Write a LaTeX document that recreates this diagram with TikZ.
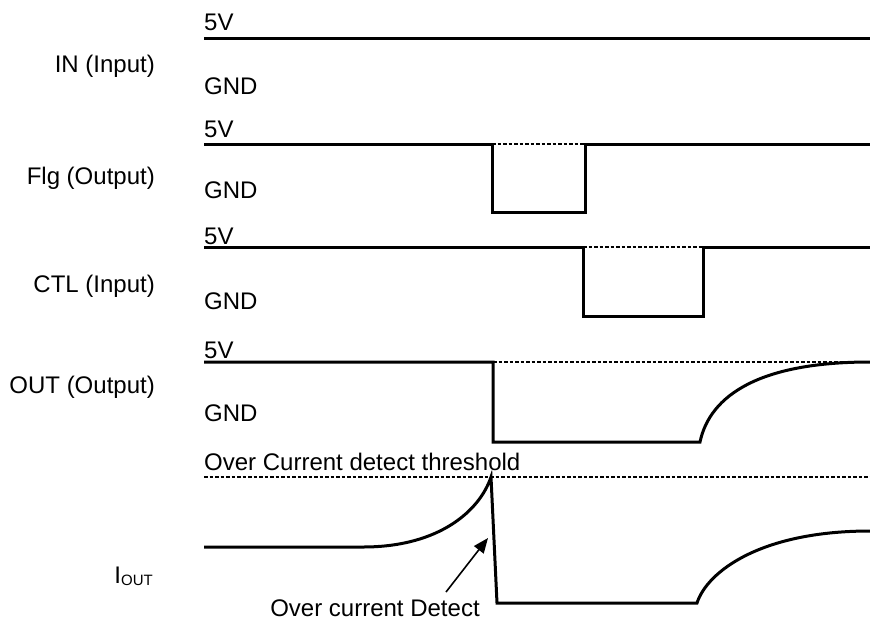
\documentclass[tikz,border=0pt]{standalone}
\usepackage{fontspec}
\setmainfont{Liberation Sans}
\usetikzlibrary{arrows.meta}
\begin{document}
\begin{tikzpicture}[x=1pt,y=-1pt,
  wave/.style={line width=3pt,line join=miter},
  refline/.style={line width=1.6pt,dash pattern=on 3.5pt off 2pt},
  lvl/.style={anchor=base west,inner sep=0pt,font=\fontsize{24}{24}\selectfont},
  sig/.style={anchor=base east,inner sep=0pt,font=\fontsize{24}{24}\selectfont},
  pointer/.style={line width=1.6pt,-{Triangle[length=15pt,width=12pt]}}]
\useasboundingbox (0,0) rectangle (870,622);
% signal names
\node[sig] (nin)  at (155,72)  {IN (Input)};
\node[sig] (nflg) at (155,184) {Flg (Output)};
\node[sig] (nctl) at (155,292) {CTL (Input)};
\node[sig] (nout) at (155,393) {OUT (Output)};
\node[sig] (niout) at (153,583) {I\raisebox{-2pt}{\fontsize{15}{15}\selectfont OUT}};
% level labels
\node[lvl] (v1) at (204,30)  {5V};
\node[lvl] (g1) at (204,94)  {GND};
\node[lvl] (v2) at (204,137) {5V};
\node[lvl] (g2) at (204,198) {GND};
\node[lvl] (v3) at (204,244) {5V};
\node[lvl] (g3) at (204,309) {GND};
\node[lvl] (v4) at (204,358) {5V};
\node[lvl] (g4) at (204,421) {GND};
\node[lvl] (thr) at (204,470) {Over Current detect threshold};
% IN
\draw[wave] (204,38) -- (870,38);
% Flg
\draw[refline] (492,144) -- (585,144);
\draw[wave] (204,144) -- (492,144) -- (492,212) -- (585,212) -- (585,144) -- (870,144);
% CTL
\draw[refline] (583,247) -- (703,247);
\draw[wave] (204,247) -- (583,247) -- (583,316) -- (703,316) -- (703,247) -- (870,247);
% OUT
\draw[refline] (493,362) -- (870,362);
\draw[wave] (204,362) -- (493,362) -- (493,442) -- (700,442)
  .. controls (710,395) and (760,362) .. (870,362);
% threshold
\draw[refline] (204,477) -- (870,477);
% IOUT
\draw[wave] (204,547) -- (363,547)
  .. controls (440,547) and (480,510) .. (491,477)
  -- (497,603) -- (697,603)
  .. controls (707,572) and (760,531) .. (870,531);
% annotation
\node[anchor=base,inner sep=0pt,font=\fontsize{24}{24}\selectfont] (ocd) at (375,616) {Over current Detect};
\coordinate (tail) at (446,592);
\coordinate (tip) at (488,538);
\draw[pointer] (tail) -- (tip);
\end{tikzpicture}
\end{document}
